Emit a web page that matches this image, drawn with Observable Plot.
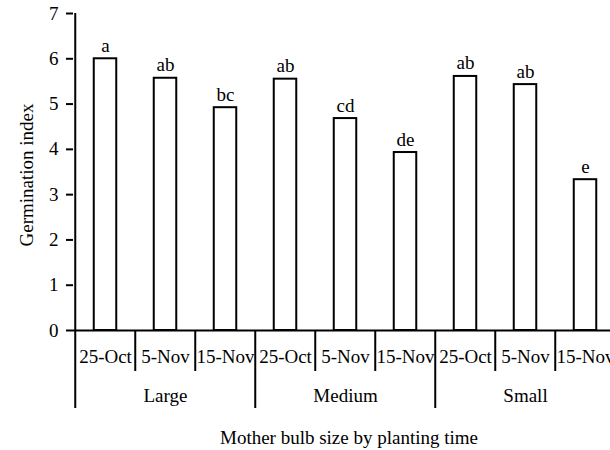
<!DOCTYPE html>
<html>
<head>
<meta charset="utf-8">
<script src="https://cdn.jsdelivr.net/npm/d3@7"></script>
<script src="https://cdn.jsdelivr.net/npm/@observablehq/plot@0.6"></script>
<style>
  html, body { margin: 0; padding: 0; background: white; overflow: hidden; }
</style>
</head>
<body>
<div id="chart"></div>
<script>
const sizes = ["Large", "Medium", "Small"];
const times = ["25-Oct", "5-Nov", "15-Nov"];
const values = [6.0, 5.57, 4.92, 5.55, 4.68, 3.93, 5.61, 5.43, 3.33];
const letters = ["a", "ab", "bc", "ab", "cd", "de", "ab", "ab", "e"];
const yTicks = [0, 1, 2, 3, 4, 5, 6, 7];
const xTitle = "Mother bulb size by planting time";
const yTitle = "Germination index";

const data = [];
sizes.forEach((s, i) => times.forEach((t, j) => {
  const k = i * times.length + j;
  data.push({key: s + "|" + t, size: s, time: t, value: values[k], letter: letters[k], first: j === 0, middle: j === 1});
}));
const keys = data.map(d => d.key);
const band = (617.5 - 73) / keys.length;

const font = "'Liberation Serif', 'Times New Roman', Times, serif";
const fs = 19;

const chart = Plot.plot({
  width: 610,
  height: 450,
  marginLeft: 73,
  marginRight: 0,
  marginTop: 13,
  marginBottom: 120,
  style: {fontFamily: font, fontSize: fs + "px", background: "white", color: "black", overflow: "hidden"},
  x: {type: "band", domain: keys, range: [73, 617.5], padding: 0, axis: null},
  y: {domain: [0, 7], axis: null},
  marks: [
    Plot.barY(data, {x: "key", y: "value", fill: "white", stroke: "black", strokeWidth: 2, insetLeft: 18.75, insetRight: 18.75}),
    Plot.text(data, {x: "key", y: "value", text: "letter", dy: -7, lineAnchor: "bottom", fontSize: fs, fontFamily: font}),
    Plot.axisY(yTicks, {label: null, tickSize: 7, tickPadding: 8, strokeWidth: 2, fontSize: fs, fontFamily: font, fontVariant: "normal", tickFormat: d => String(d)}),
    Plot.ruleY([0], {strokeWidth: 2}),
    // y axis line (extends down through the group rows)
    Plot.ruleX(data.filter(d => d.key === keys[0]), {x: "key", dx: -band / 2, strokeWidth: 2, insetBottom: -78}),
    // short dividers between planting times
    Plot.ruleX(data.filter(d => !d.first), {x: "key", dx: -band / 2, y1: 0, y2: 0, insetBottom: -41, strokeWidth: 2}),
    // long dividers between bulb sizes
    Plot.ruleX(data.filter(d => d.first && d.key !== keys[0]), {x: "key", dx: -band / 2, y1: 0, y2: 0, insetBottom: -78, strokeWidth: 2}),
    Plot.text(data, {x: "key", text: "time", frameAnchor: "bottom", dy: 26, lineAnchor: "middle", fontSize: fs, fontFamily: font}),
    Plot.text(data.filter(d => d.middle), {x: "key", text: "size", frameAnchor: "bottom", dy: 65, lineAnchor: "middle", fontSize: fs, fontFamily: font}),
    Plot.text([xTitle], {text: d => d, frameAnchor: "bottom", dx: 7, dy: 107, lineAnchor: "middle", fontSize: fs, fontFamily: font}),
    Plot.text([yTitle], {text: d => d, frameAnchor: "left", dx: -47, dy: 3, rotate: -90, lineAnchor: "middle", textAnchor: "middle", fontSize: fs, fontFamily: font})
  ]
});
document.getElementById("chart").appendChild(chart);
</script>
</body>
</html>
